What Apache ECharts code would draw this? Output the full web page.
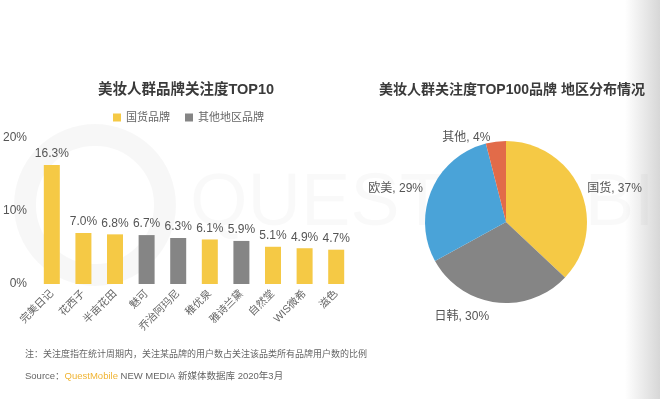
<!DOCTYPE html>
<html><head><meta charset="utf-8">
<script src="https://cdn.jsdelivr.net/npm/echarts@6/dist/echarts.min.js"></script>
<style>html,body{margin:0;padding:0;background:#fff;}#c{width:660px;height:399px;}</style>
</head><body><div id="c"></div>
<script>
var brands = ['完美日记','花西子','半亩花田','魅可','乔治阿玛尼','稚优泉','雅诗兰黛','自然堂','WIS微希','滋色'];
var domesticValues = [16.3, 7.0, 6.8, null, null, 6.1, null, 5.1, 4.9, 4.7];
var otherValues = [null, null, null, 6.7, 6.3, null, 5.9, null, null, null];
var yTicks = [0, 10, 20];
var pieNames = ['国货','日韩','欧美','其他'];
var pieValues = [37, 30, 29, 4];
var seriesNames = ['国货品牌','其他地区品牌'];

var YELLOW = '#F5C945', GRAY = '#858585', BLUE = '#4AA3D8', ORANGE = '#E26B49';
var labelGap = [2, 14, 4, 4];
var chart = echarts.init(document.getElementById('c'));
var txt = "'Liberation Sans', 'Noto Sans CJK SC', sans-serif";
function pct(p){return p.value.toFixed(1) + '%';}
chart.setOption({
  backgroundColor: '#fff',
  textStyle: {fontFamily: txt},
  animation: false,
  title: [
    {text: '美妆人群品牌关注度TOP10', left: 181, top: 78, textAlign: 'center',
     textStyle: {fontSize: 14.5, fontWeight: 'bold', color: '#3a3a3a', fontFamily: txt}},
    {text: '美妆人群关注度TOP100品牌 地区分布情况', left: 507, top: 78, textAlign: 'center',
     textStyle: {fontSize: 14, fontWeight: 'bold', color: '#3a3a3a', fontFamily: txt}}
  ],
  legend: {
    data: seriesNames, left: 108, top: 107, itemWidth: 8, itemHeight: 8, itemGap: 15,
    icon: 'rect', textStyle: {fontSize: 11, color: '#666', fontFamily: txt}
  },
  grid: {left: 34, right: 308, top: 138, bottom: 115},
  xAxis: {
    type: 'category', data: brands,
    axisLine: {show: false}, axisTick: {show: false},
    axisLabel: {rotate: 45, fontSize: 10.5, color: '#666', margin: 8, interval: 0}
  },
  yAxis: {
    type: 'value', min: yTicks[0], max: yTicks[yTicks.length-1], interval: 10,
    axisLine: {show: false}, axisTick: {show: false}, splitLine: {show: false},
    axisLabel: {formatter: '{value}%', fontSize: 12, color: '#555', margin: 9}
  },
  series: [
    {name: seriesNames[0], type: 'bar', data: domesticValues, barWidth: 16, barGap: '-100%',
     itemStyle: {color: YELLOW},
     label: {show: true, position: 'top', distance: 5, fontSize: 12, color: '#555', formatter: pct}},
    {name: seriesNames[1], type: 'bar', data: otherValues, barWidth: 16, barGap: '-100%',
     itemStyle: {color: GRAY},
     label: {show: true, position: 'top', distance: 5, fontSize: 12, color: '#555', formatter: pct}},
    {type: 'pie', center: [506, 222], radius: [0, 81], startAngle: 90, clockwise: true,
     data: pieNames.map(function(n, i){
       return {name: n, value: pieValues[i], labelLine: {show: false, length: labelGap[i], length2: 0}};
     }),
     color: [YELLOW, GRAY, BLUE, ORANGE],
     label: {show: true, position: 'outside', fontSize: 12, color: '#555',
             formatter: function(p){return p.name + ', ' + p.value + '%';}},
     labelLine: {show: false, length: 8, length2: 0},
     itemStyle: {borderWidth: 0}}
  ],
  graphic: [
    {type: 'rect', left: 625, top: 0, shape: {width: 35, height: 399}, z: -1,
     style: {fill: new echarts.graphic.LinearGradient(0, 0, 1, 0, [
       {offset: 0, color: 'rgba(255,255,255,1)'}, {offset: 1, color: 'rgba(215,215,215,1)'}])}},
    {type: 'circle', shape: {cx: 95, cy: 205, r: 70}, z: -1, silent: true,
     style: {fill: 'none', stroke: 'rgba(0,0,0,0.03)', lineWidth: 22}},
    {type: 'text', left: 190, top: 168, z: -1, silent: true,
     style: {text: 'QUEST MOBILE', fontSize: 74, fill: 'rgba(0,0,0,0.025)', fontFamily: "'Liberation Sans', sans-serif"}},
    {type: 'text', left: 25, top: 350, z: 10,
     style: {text: '注：关注度指在统计周期内，关注某品牌的用户数占关注该品类所有品牌用户数的比例',
             fontSize: 9, fill: '#666', fontFamily: txt}},
    {type: 'text', left: 25, top: 372, z: 10,
     style: {text: '{a|Source：}{b|QuestMobile}{a| NEW MEDIA 新媒体数据库 2020年3月}',
             fontFamily: txt,
             rich: {a: {fontSize: 9.5, fill: '#666', fontFamily: txt},
                    b: {fontSize: 9.5, fill: '#F0B433', fontFamily: txt}}}}
  ]
});
</script></body></html>
